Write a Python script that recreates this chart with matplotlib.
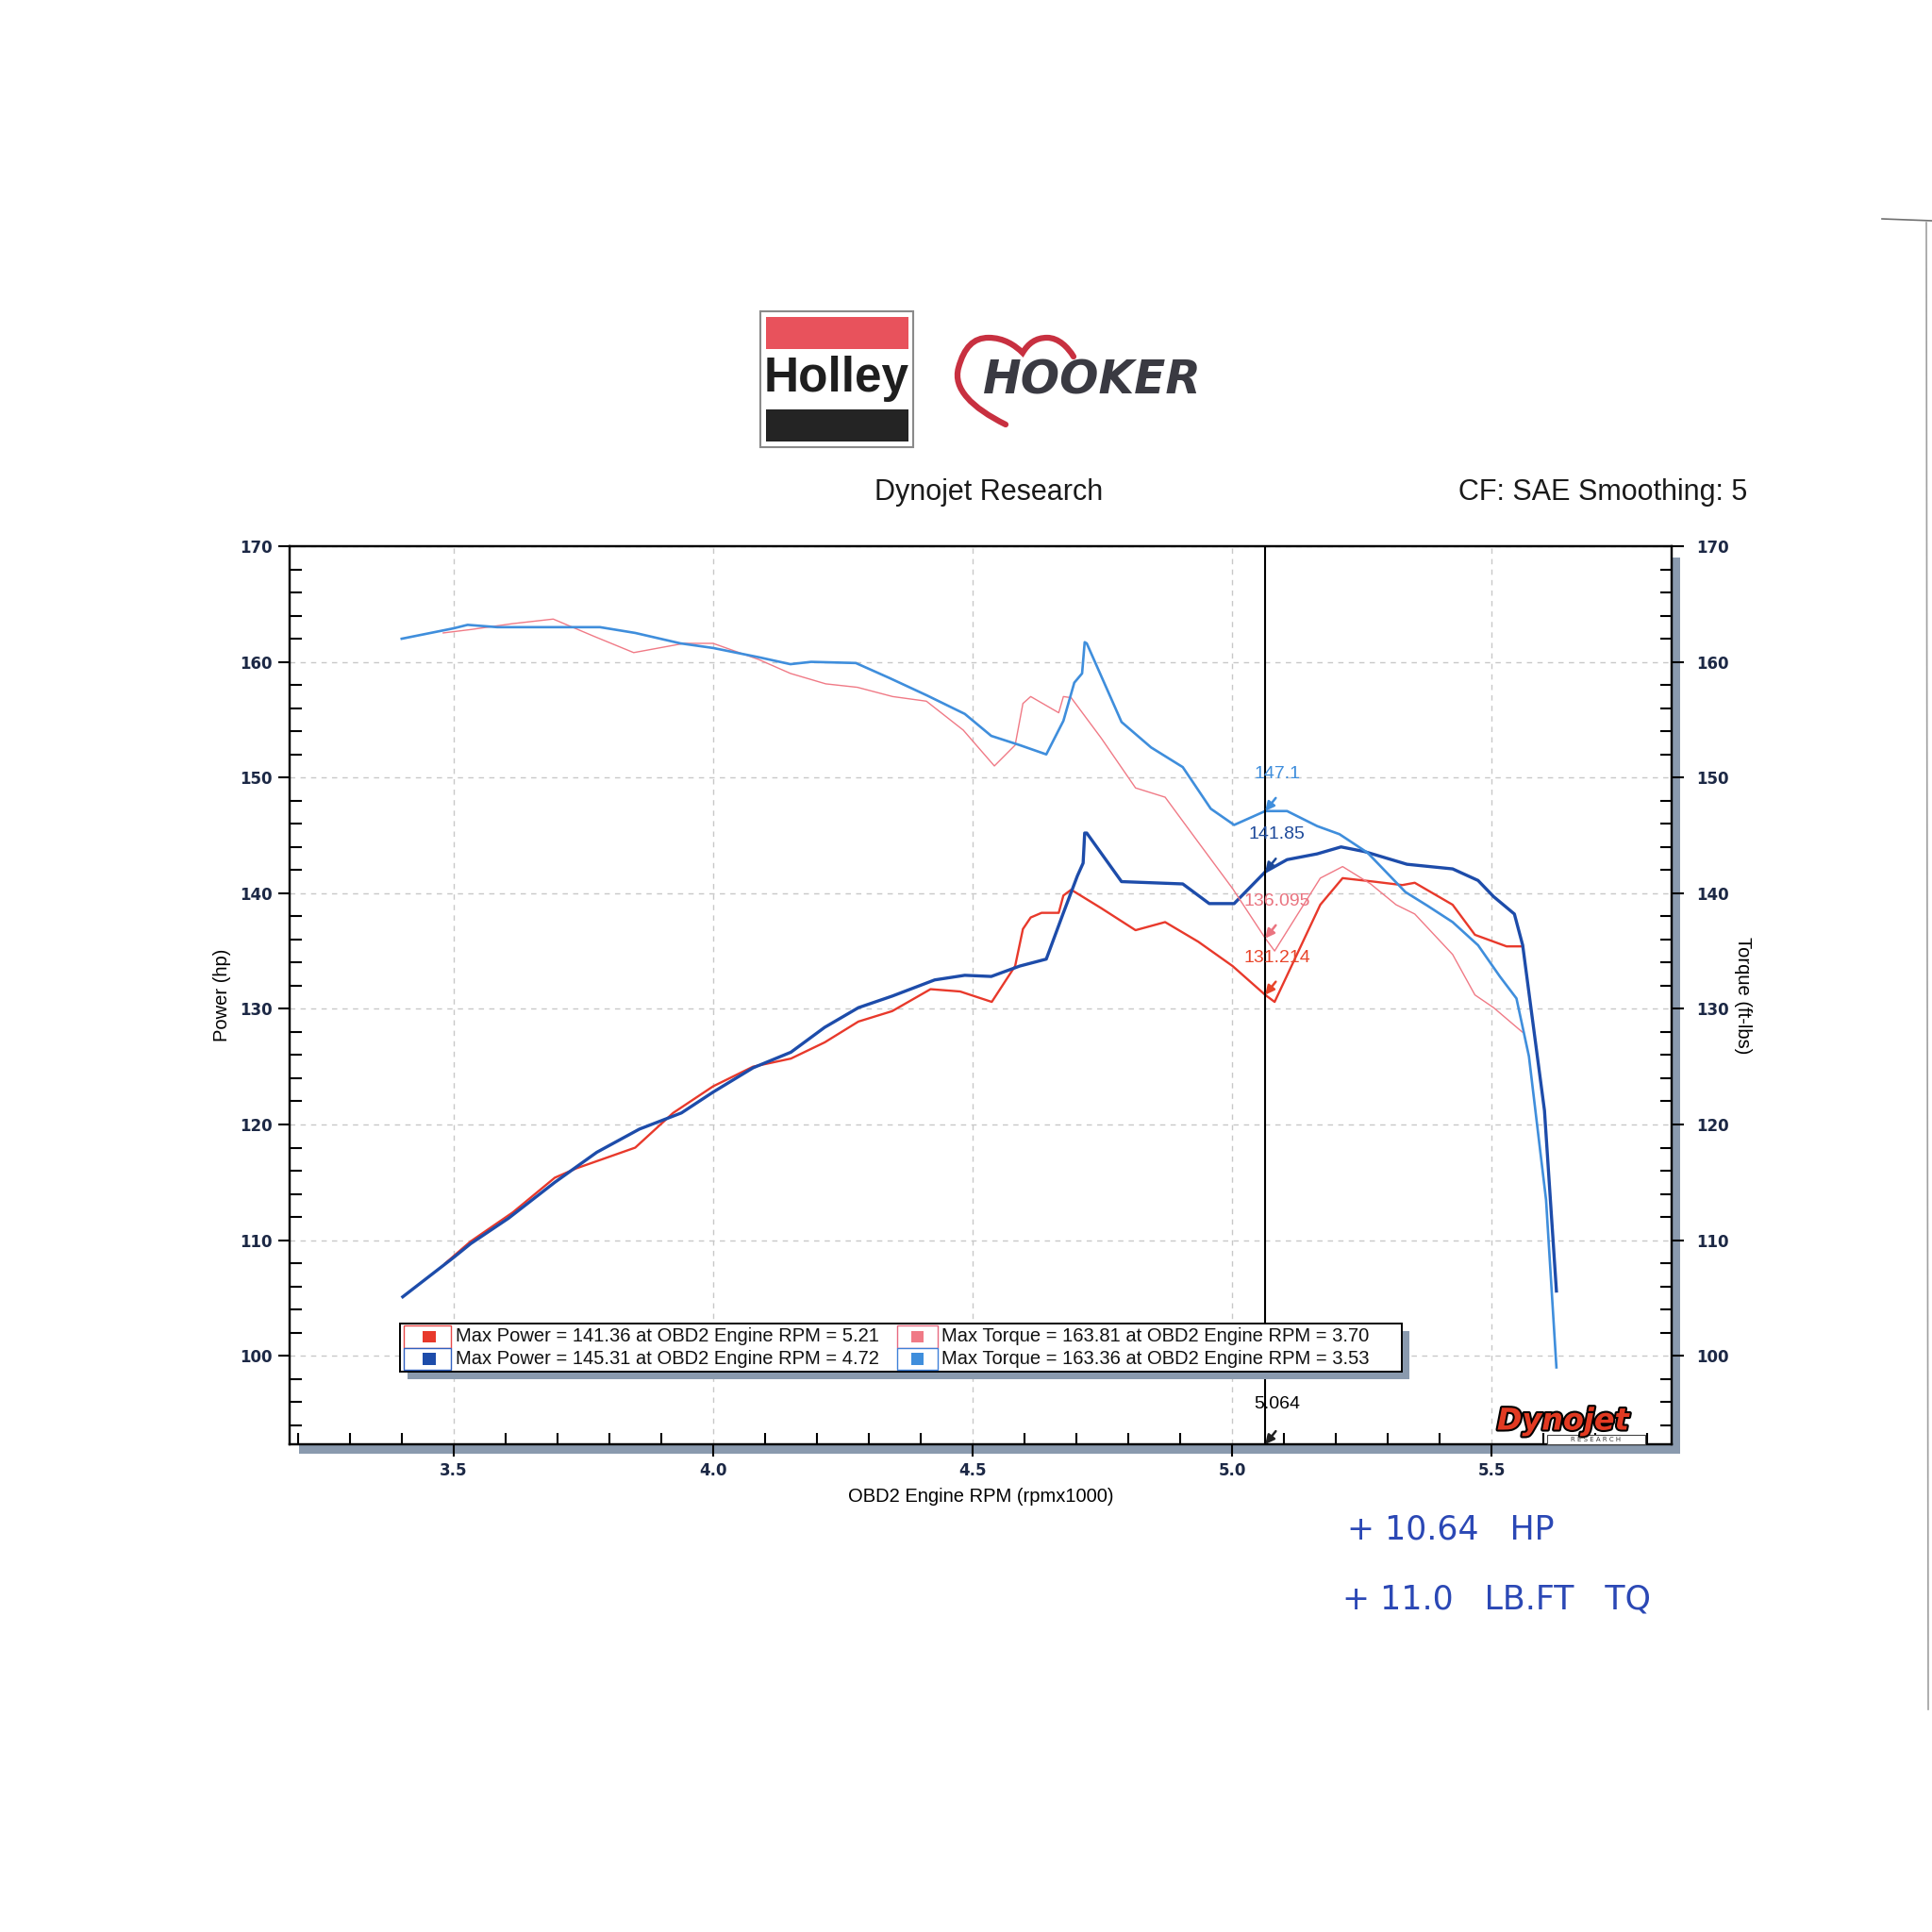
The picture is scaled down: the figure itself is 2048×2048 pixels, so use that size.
import matplotlib
matplotlib.use('Agg')
import matplotlib.pyplot as plt
from matplotlib.patches import Rectangle, PathPatch
from matplotlib.path import Path
from matplotlib.ticker import MultipleLocator, FormatStrFormatter
import matplotlib.patheffects as pe

# ---------------- data (rpm x1000, values) ----------------
red_power_rpm = [3.484, 3.533, 3.614, 3.695, 3.736, 3.85, 3.923, 4.0, 4.077, 4.15, 4.215, 4.28,
                 4.345, 4.419, 4.476, 4.537, 4.582, 4.597, 4.612, 4.633, 4.666, 4.675, 4.69, 4.748,
                 4.814, 4.871, 4.935, 5.001, 5.064, 5.082, 5.17, 5.213, 5.273, 5.328, 5.352, 5.425,
                 5.468, 5.529, 5.559]
red_power_hp = [108.0, 109.9, 112.4, 115.4, 116.2, 118.0, 121.0, 123.3, 125.0, 125.7, 127.1, 128.9,
                129.8, 131.7, 131.5, 130.6, 133.7, 136.9, 137.9, 138.3, 138.3, 139.8, 140.3, 138.7,
                136.8, 137.5, 135.8, 133.7, 131.2, 130.6, 139.0, 141.3, 141.0, 140.7, 140.9, 139.0,
                136.4, 135.4, 135.4]

red_torque_rpm = [3.48, 3.534, 3.613, 3.692, 3.771, 3.847, 3.944, 4.0, 4.088, 4.149, 4.217, 4.278,
                  4.346, 4.411, 4.482, 4.542, 4.582, 4.597, 4.612, 4.666, 4.675, 4.69, 4.748, 4.814,
                  4.871, 4.935, 5.001, 5.064, 5.082, 5.17, 5.213, 5.267, 5.316, 5.352, 5.425, 5.468,
                  5.504, 5.559]
red_torque_ft = [162.5, 162.8, 163.3, 163.7, 162.2, 160.8, 161.6, 161.6, 160.2, 159.0, 158.1, 157.8,
                 157.0, 156.6, 154.1, 151.0, 152.8, 156.4, 157.0, 155.6, 157.0, 156.9, 153.4, 149.1,
                 148.3, 144.4, 140.4, 136.1, 135.0, 141.3, 142.3, 140.8, 139.0, 138.2, 134.7, 131.2,
                 130.1, 128.0]

blue_power_rpm = [3.402, 3.5, 3.533, 3.606, 3.695, 3.776, 3.858, 3.939, 4.0, 4.077, 4.15, 4.215,
                  4.28, 4.345, 4.427, 4.485, 4.536, 4.591, 4.642, 4.675, 4.702, 4.713, 4.716, 4.72,
                  4.787, 4.905, 4.956, 5.004, 5.064, 5.106, 5.164, 5.21, 5.255, 5.337, 5.425, 5.474,
                  5.504, 5.544, 5.56, 5.602, 5.625]
blue_power_hp = [105.1, 108.5, 109.7, 111.9, 115.0, 117.6, 119.6, 121.0, 122.8, 124.9, 126.25, 128.4,
                 130.1, 131.1, 132.5, 132.9, 132.8, 133.7, 134.3, 138.3, 141.5, 142.6, 145.2, 145.2,
                 141.0, 140.8, 139.1, 139.1, 141.85, 142.9, 143.4, 144.0, 143.6, 142.5, 142.1, 141.1,
                 139.7, 138.2, 135.5, 121.2, 105.6]

blue_torque_rpm = [3.40, 3.50, 3.527, 3.584, 3.692, 3.782, 3.85, 3.937, 4.0, 4.088, 4.149, 4.189,
                   4.275, 4.34, 4.412, 4.485, 4.536, 4.591, 4.642, 4.675, 4.696, 4.711, 4.716, 4.72,
                   4.787, 4.844, 4.905, 4.959, 5.004, 5.064, 5.106, 5.164, 5.207, 5.261, 5.334, 5.377,
                   5.425, 5.474, 5.516, 5.548, 5.572, 5.605, 5.625]
blue_torque_ft = [162.0, 162.9, 163.2, 163.0, 163.0, 163.0, 162.5, 161.6, 161.2, 160.4, 159.8, 160.0,
                  159.9, 158.6, 157.1, 155.5, 153.6, 152.8, 152.0, 154.9, 158.2, 159.0, 161.7, 161.6,
                  154.8, 152.6, 150.9, 147.3, 145.9, 147.1, 147.1, 145.8, 145.1, 143.5, 140.1, 138.9,
                  137.5, 135.5, 132.8, 130.9, 125.9, 113.5, 99.0]

cursor_rpm = 5.064
cursor_labels = ["147.1", "141.85", "136.095", "131.214"]
cursor_values = [147.1, 141.85, 136.095, 131.214]

legend_labels = ["Max Power = 141.36 at OBD2 Engine RPM = 5.21",
                 "Max Torque = 163.81 at OBD2 Engine RPM = 3.70",
                 "Max Power = 145.31 at OBD2 Engine RPM = 4.72",
                 "Max Torque = 163.36 at OBD2 Engine RPM = 3.53"]

x_ticks = [3.5, 4.0, 4.5, 5.0, 5.5]
y_ticks = [100, 110, 120, 130, 140, 150, 160, 170]

# ---------------- styles ----------------
C_RED = '#e8392b'
C_PINK = '#f07a86'
C_DBLUE = '#1d4caa'
C_LBLUE = '#3f8edc'
C_SHADOW = '#8a9aae'
C_TICK = '#1c2845'
FONT = 'Liberation Sans'

W = 2048
fig = plt.figure(figsize=(20.48, 20.48), dpi=100)
fig.patch.set_facecolor('white')

bg = fig.add_axes([0, 0, 1, 1], zorder=0)
bg.set_xlim(0, W)
bg.set_ylim(W, 0)
bg.axis('off')

L, R, T, B = 307, 1772, 579, 1531
ax = fig.add_axes([L / W, 1 - B / W, (R - L) / W, (B - T) / W])
ax2 = ax.twinx()
ax.set_zorder(2)
ax2.set_zorder(3)
ax2.patch.set_visible(False)

fg = fig.add_axes([0, 0, 1, 1], zorder=10)
fg.set_xlim(0, W)
fg.set_ylim(W, 0)
fg.axis('off')
fg.patch.set_visible(False)

XLIM = (3.184, 5.847)
YLIM = (92.35, 170.0)
for a in (ax, ax2):
    a.set_xlim(*XLIM)
    a.set_ylim(*YLIM)
    for s in a.spines.values():
        s.set_linewidth(1.6)
        s.set_color('black')

ax.set_xticks(x_ticks)
ax.xaxis.set_minor_locator(MultipleLocator(0.1))
ax.xaxis.set_major_formatter(FormatStrFormatter('%.1f'))
for a in (ax, ax2):
    a.set_yticks(y_ticks)
    a.yaxis.set_minor_locator(MultipleLocator(2))
    a.yaxis.set_major_formatter(FormatStrFormatter('%d'))

ax.tick_params(axis='x', which='major', direction='out', length=9, width=1.5, pad=5,
               labelsize=12, labelcolor=C_TICK)
ax.tick_params(axis='x', which='minor', direction='in', length=9, width=1.5)
ax.tick_params(axis='y', which='major', direction='out', length=9, width=1.5, pad=4,
               labelsize=12, labelcolor=C_TICK, left=True, right=False)
ax.tick_params(axis='y', which='minor', direction='in', length=9, width=1.5, left=True, right=False)
ax2.tick_params(axis='y', which='major', direction='out', length=9, width=1.5, pad=10,
                labelsize=12, labelcolor=C_TICK, right=True, left=False)
ax2.tick_params(axis='y', which='minor', direction='in', length=9, width=1.5, right=True, left=False)
for lab in ax.get_xticklabels() + ax.get_yticklabels() + ax2.get_yticklabels():
    lab.set_fontfamily('DejaVu Sans')
    lab.set_fontweight('bold')

ax.grid(which='major', linestyle=(0, (4, 4)), color='#c8c8c8', linewidth=1.0)
ax.set_axisbelow(True)

# curves
ax.plot(red_power_rpm, red_power_hp, color=C_RED, lw=1.7, zorder=3)
ax.plot(blue_power_rpm, blue_power_hp, color=C_DBLUE, lw=2.4, zorder=4)
ax2.plot(red_torque_rpm, red_torque_ft, color=C_PINK, lw=1.0, zorder=3)
ax2.plot(blue_torque_rpm, blue_torque_ft, color=C_LBLUE, lw=1.9, zorder=4)

# cursor
ax2.axvline(cursor_rpm, color='black', lw=1.5, zorder=5)
ann_colors = [C_LBLUE, '#1e4a9a', '#ea7480', '#e8452a']
ann_text_y = [150.3, 145.1, 139.3, 134.4]
for lab, val, col, ty in zip(cursor_labels, cursor_values, ann_colors, ann_text_y):
    ax2.text(cursor_rpm + 0.023, ty, lab, color=col, fontsize=14, family=FONT,
             ha='center', va='center', zorder=7)
    ax2.annotate('', xy=(cursor_rpm, val), xytext=(8, 10), textcoords='offset points',
                 arrowprops=dict(arrowstyle='-|>', color=col, lw=1.8, mutation_scale=14,
                                 shrinkA=0, shrinkB=0), zorder=7)
ax2.text(cursor_rpm + 0.023, 95.8, f"{cursor_rpm:.3f}", color='black', fontsize=14, family=FONT,
         ha='center', va='center', zorder=7)
ax2.annotate('', xy=(cursor_rpm, YLIM[0]), xytext=(8, 10), textcoords='offset points',
             arrowprops=dict(arrowstyle='-|>', color='#222222', lw=1.8, mutation_scale=14,
                             shrinkA=0, shrinkB=0), zorder=7)

# axis labels
ax.set_ylabel('Power (hp)', family=FONT, fontsize=14.5, labelpad=7)
ax2.set_ylabel('Torque (ft-lbs)', family=FONT, fontsize=14.5, rotation=270, labelpad=17)
ax.set_xlabel('OBD2 Engine RPM (rpmx1000)', family=FONT, fontsize=14.5, labelpad=6)

# legend box (axes fraction)
lx0, ly0, lw_, lh_ = 0.0799, 0.0809, 0.7249, 0.0536
ax2.add_patch(Rectangle((lx0 + 0.0055, ly0 - 0.0084), lw_, lh_, transform=ax2.transAxes,
                        facecolor=C_SHADOW, edgecolor='none', zorder=9, clip_on=False))
ax2.add_patch(Rectangle((lx0, ly0), lw_, lh_, transform=ax2.transAxes,
                        facecolor='white', edgecolor='black', lw=1.4, zorder=10, clip_on=False))
leg_colors = [C_RED, C_PINK, C_DBLUE, C_LBLUE]
leg_borders = ['#e84848', '#e86a80', '#3060c0', '#3f80d8']
cell_x = [(0.0826, 0.034), (0.4396, 0.0294)]
row_y = [(0.1071, 0.0253), (0.0830, 0.0241)]
sq_cx = [0.101, 0.454]
txt_x = [0.1201, 0.4717]
for i, (lab, col, bcol) in enumerate(zip(legend_labels, leg_colors, leg_borders)):
    r, c = divmod(i, 2)
    cx, cw = cell_x[c]
    ry, rh = row_y[r]
    ax2.add_patch(Rectangle((cx, ry), cw, rh, transform=ax2.transAxes, facecolor='white',
                            edgecolor=bcol, lw=1.0, zorder=11, clip_on=False))
    ax2.add_patch(Rectangle((sq_cx[c] - 0.0045, ry + rh / 2 - 0.0068), 0.009, 0.0136,
                            transform=ax2.transAxes, facecolor=col, edgecolor='none',
                            zorder=12, clip_on=False))
    ax2.text(txt_x[c], ry + rh / 2, lab, transform=ax2.transAxes, family=FONT, fontsize=14.5,
             ha='left', va='center', zorder=12, color='#111111')

# plot shadow (figure pixels)
bg.add_patch(Rectangle((317, 1531), 1464, 10, facecolor=C_SHADOW, edgecolor='none'))
bg.add_patch(Rectangle((1772, 591), 9, 950, facecolor=C_SHADOW, edgecolor='none'))

# titles
bg.text(1048, 522, 'Dynojet Research', family=FONT, fontsize=22, ha='center', va='center',
        color='#1a1a1a')
bg.text(1852, 522, 'CF: SAE Smoothing: 5', family=FONT, fontsize=22, ha='right', va='center',
        color='#1a1a1a')

# Holley logo
bg.add_patch(Rectangle((806, 330), 162, 144, facecolor='white', edgecolor='#8a8a8a', lw=1.5))
bg.add_patch(Rectangle((812, 336), 151, 34, facecolor='#e8525c', edgecolor='none'))
bg.add_patch(Rectangle((812, 434), 151, 34, facecolor='#242424', edgecolor='none'))
bg.text(887, 401, 'Holley', family=FONT, weight='bold', fontsize=37, ha='center', va='center',
        color='#1e1e1e')

# Hooker logo
verts = [(1066, 450), (1030, 432), (1010, 412), (1016, 390),
         (1022, 368), (1032, 358), (1048, 358),
         (1064, 358), (1076, 366), (1084, 374),
         (1090, 364), (1098, 358), (1110, 358),
         (1122, 358), (1132, 368), (1138, 378)]
codes = [Path.MOVETO] + [Path.CURVE4] * 15
bg.add_patch(PathPatch(Path(verts, codes), facecolor='none', edgecolor='#c83040', lw=4.5,
                       capstyle='round'))
bg.text(1158, 403, 'HOOKER', family='DejaVu Sans', weight='bold', style='italic', fontsize=35,
        ha='center', va='center', color='#3a3a42')

# Dynojet logo (bottom right inside plot, drawn on top)
fg.text(1657, 1507, 'Dynojet', family='DejaVu Sans', weight='bold', style='italic', fontsize=23,
        ha='center', va='center', color='#e23a22',
        path_effects=[pe.withStroke(linewidth=3, foreground='black')])
fg.add_patch(Rectangle((1640, 1521), 104, 10, facecolor='white', edgecolor='#444444', lw=0.8))
fg.text(1692, 1526.5, 'R E S E A R C H', family='DejaVu Sans', fontsize=5, ha='center',
        va='center', color='#333333')

# handwritten notes
bg.text(1428, 1622, '+ 10.64   HP', family='DejaVu Sans', fontsize=25, ha='left', va='center',
        color='#2b48b5')
bg.text(1423, 1695, '+ 11.0   LB.FT   TQ', family='DejaVu Sans', fontsize=25, ha='left',
        va='center', color='#2b48b5')

# scan edge
bg.plot([2042, 2044], [236, 1812], color='#a0a0a0', lw=1.2)
bg.plot([1995, 2048], [232, 234], color='#707070', lw=1.2)

fig.savefig('out.png', dpi=100, facecolor='white')
